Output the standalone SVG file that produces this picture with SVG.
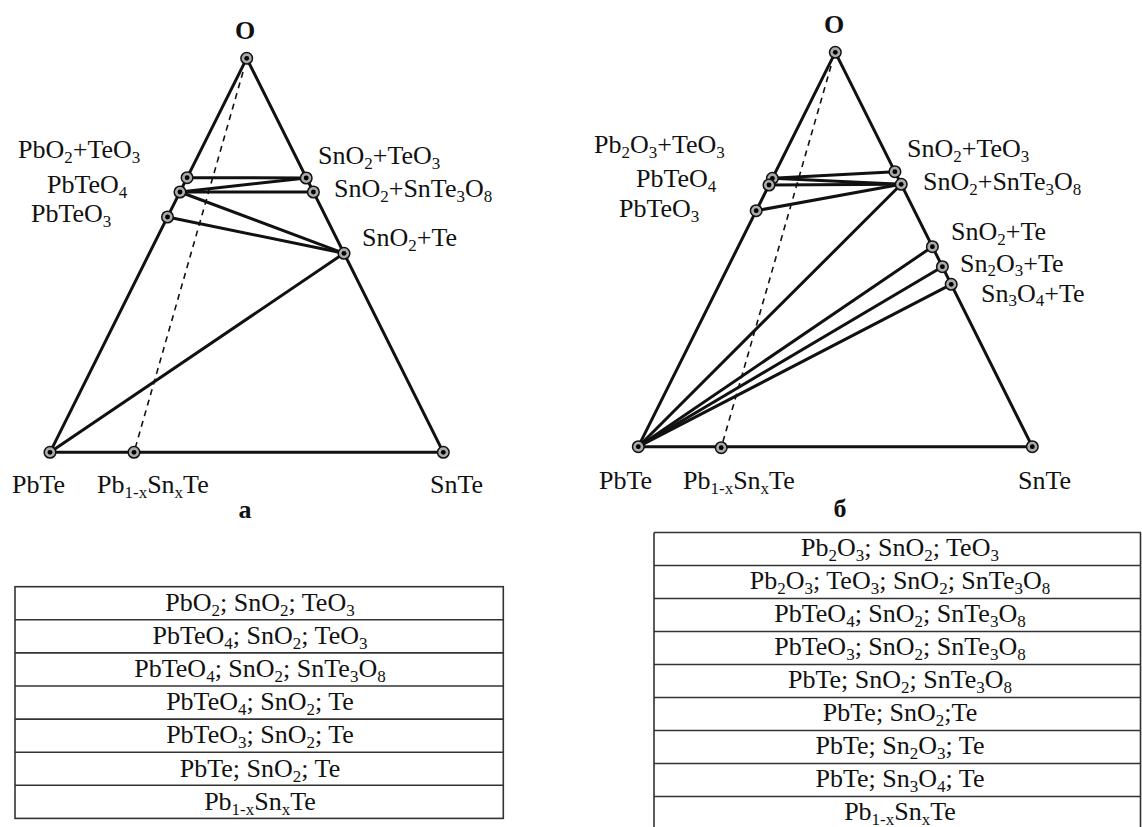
<svg xmlns="http://www.w3.org/2000/svg" width="1142" height="827" viewBox="0 0 1142 827">
<style>
text{font-family:"Liberation Serif","Times New Roman",serif;font-size:26px;fill:#111}
.b{font-weight:bold}
.s{font-size:17px}
.m{text-anchor:middle}
.e{stroke:#111;stroke-width:3;fill:none;stroke-linecap:round}
.d{stroke:#111;stroke-width:1.6;fill:none;stroke-dasharray:6 5}
.t{stroke:#333;stroke-width:1.6;fill:none}
</style>
<defs>
<g id="pt"><circle r="5.8" fill="#aaa" stroke="#111" stroke-width="1.5"/><circle r="2.4" fill="#000"/></g>
</defs>
<rect width="1142" height="827" fill="#fff"/>

<g id="connectors">
<polygon class="e" points="246.7,58.3 50,452.3 443.3,452.3" stroke-linejoin="round"/>
<line class="e" x1="187.1" y1="177.7" x2="306.2" y2="178"/>
<line class="e" x1="180" y1="192" x2="306.2" y2="178"/>
<line class="e" x1="180" y1="192" x2="313.4" y2="192"/>
<line class="e" x1="180" y1="192" x2="344" y2="253.3"/>
<line class="e" x1="167.5" y1="217" x2="344" y2="253.3"/>
<line class="e" x1="50" y1="452.3" x2="344" y2="253.3"/>
<line class="d" x1="243" y1="72" x2="134" y2="452.3"/>
<polygon class="e" points="835.3,52.3 638.3,446.7 1032.3,446.7" stroke-linejoin="round"/>
<line class="e" x1="772.4" y1="178.3" x2="894.9" y2="171.7"/>
<line class="e" x1="772.4" y1="178.3" x2="901.2" y2="184.3"/>
<line class="e" x1="769" y1="185" x2="901.2" y2="184.3"/>
<line class="e" x1="756.2" y1="210.7" x2="901.2" y2="184.3"/>
<line class="e" x1="638.3" y1="446.7" x2="901.2" y2="184.3"/>
<line class="e" x1="638.3" y1="446.7" x2="932.4" y2="246.7"/>
<line class="e" x1="638.3" y1="446.7" x2="942.4" y2="266.7"/>
<line class="e" x1="638.3" y1="446.7" x2="951.2" y2="284.3"/>
<line class="d" x1="831" y1="66" x2="721.2" y2="447.7"/>
</g>

<g id="nO_a"><use href="#pt" x="246.7" y="58.3"/><text class="b m" x="245" y="39">O</text></g>
<g id="nPbO2TeO3_a"><use href="#pt" x="187.1" y="177.7"/><text x="18" y="158">PbO<tspan class="s" dy="5">2</tspan><tspan dy="-5">+TeO</tspan><tspan class="s" dy="5">3</tspan></text></g>
<g id="nPbTeO4_a"><use href="#pt" x="180" y="192"/><text x="47" y="193">PbTeO<tspan class="s" dy="5">4</tspan></text></g>
<g id="nPbTeO3_a"><use href="#pt" x="167.5" y="217"/><text x="31" y="221.7">PbTeO<tspan class="s" dy="5">3</tspan></text></g>
<g id="nSnO2TeO3_a"><use href="#pt" x="306.2" y="178"/><text x="318" y="164">SnO<tspan class="s" dy="5">2</tspan><tspan dy="-5">+TeO</tspan><tspan class="s" dy="5">3</tspan></text></g>
<g id="nSnO2SnTe3O8_a"><use href="#pt" x="313.4" y="192"/><text x="334" y="196.7">SnO<tspan class="s" dy="5">2</tspan><tspan dy="-5">+SnTe</tspan><tspan class="s" dy="5">3</tspan><tspan dy="-5">O</tspan><tspan class="s" dy="5">8</tspan></text></g>
<g id="nSnO2Te_a"><use href="#pt" x="344" y="253.3"/><text x="362" y="246">SnO<tspan class="s" dy="5">2</tspan><tspan dy="-5">+Te</tspan></text></g>
<g id="nPbTe_a"><use href="#pt" x="50" y="452.3"/><text x="12" y="493">PbTe</text></g>
<g id="nPbSnTe_a"><use href="#pt" x="134" y="452.3"/><text x="97" y="493">Pb<tspan class="s" dy="5">1-x</tspan><tspan dy="-5">Sn</tspan><tspan class="s" dy="5">x</tspan><tspan dy="-5">Te</tspan></text></g>
<g id="nSnTe_a"><use href="#pt" x="443.3" y="452.3"/><text x="430" y="493">SnTe</text></g>
<g id="label_a"><text class="b m" x="245" y="518">а</text></g>

<g id="nO_b"><use href="#pt" x="835.3" y="52.3"/><text class="b m" x="834" y="33">O</text></g>
<g id="nPb2O3TeO3_b"><use href="#pt" x="772.4" y="178.3"/><text x="594" y="152.7">Pb<tspan class="s" dy="5">2</tspan><tspan dy="-5">O</tspan><tspan class="s" dy="5">3</tspan><tspan dy="-5">+TeO</tspan><tspan class="s" dy="5">3</tspan></text></g>
<g id="nPbTeO4_b"><use href="#pt" x="769" y="185"/><text x="636" y="187.3">PbTeO<tspan class="s" dy="5">4</tspan></text></g>
<g id="nPbTeO3_b"><use href="#pt" x="756.2" y="210.7"/><text x="619" y="216.7">PbTeO<tspan class="s" dy="5">3</tspan></text></g>
<g id="nSnO2TeO3_b"><use href="#pt" x="894.9" y="171.7"/><text x="907" y="156.7">SnO<tspan class="s" dy="5">2</tspan><tspan dy="-5">+TeO</tspan><tspan class="s" dy="5">3</tspan></text></g>
<g id="nSnO2SnTe3O8_b"><use href="#pt" x="901.2" y="184.3"/><text x="923" y="190">SnO<tspan class="s" dy="5">2</tspan><tspan dy="-5">+SnTe</tspan><tspan class="s" dy="5">3</tspan><tspan dy="-5">O</tspan><tspan class="s" dy="5">8</tspan></text></g>
<g id="nSnO2Te_b"><use href="#pt" x="932.4" y="246.7"/><text x="951" y="240">SnO<tspan class="s" dy="5">2</tspan><tspan dy="-5">+Te</tspan></text></g>
<g id="nSn2O3Te_b"><use href="#pt" x="942.4" y="266.7"/><text x="960" y="271.5">Sn<tspan class="s" dy="4">2</tspan><tspan dy="-4">O</tspan><tspan class="s" dy="4">3</tspan><tspan dy="-4">+Te</tspan></text></g>
<g id="nSn3O4Te_b"><use href="#pt" x="951.2" y="284.3"/><text x="981" y="302">Sn<tspan class="s" dy="4">3</tspan><tspan dy="-4">O</tspan><tspan class="s" dy="4">4</tspan><tspan dy="-4">+Te</tspan></text></g>
<g id="nPbTe_b"><use href="#pt" x="638.3" y="446.7"/><text x="599" y="489">PbTe</text></g>
<g id="nPbSnTe_b"><use href="#pt" x="721.2" y="447.7"/><text x="683" y="489">Pb<tspan class="s" dy="5">1-x</tspan><tspan dy="-5">Sn</tspan><tspan class="s" dy="5">x</tspan><tspan dy="-5">Te</tspan></text></g>
<g id="nSnTe_b"><use href="#pt" x="1032.3" y="446.7"/><text x="1018" y="489">SnTe</text></g>
<g id="label_b"><text class="b m" x="840" y="517">б</text></g>

<g id="table_a">
<rect class="t" x="15" y="586.7" width="488.3" height="231.7"/>
<line class="t" x1="15" y1="619.8" x2="503.3" y2="619.8"/>
<line class="t" x1="15" y1="652.9" x2="503.3" y2="652.9"/>
<line class="t" x1="15" y1="686" x2="503.3" y2="686"/>
<line class="t" x1="15" y1="719.1" x2="503.3" y2="719.1"/>
<line class="t" x1="15" y1="752.2" x2="503.3" y2="752.2"/>
<line class="t" x1="15" y1="785.3" x2="503.3" y2="785.3"/>
<text class="m" x="260" y="611">PbO<tspan class="s" dy="5">2</tspan><tspan dy="-5">; SnO</tspan><tspan class="s" dy="5">2</tspan><tspan dy="-5">; TeO</tspan><tspan class="s" dy="5">3</tspan></text>
<text class="m" x="260" y="644.1">PbTeO<tspan class="s" dy="5">4</tspan><tspan dy="-5">; SnO</tspan><tspan class="s" dy="5">2</tspan><tspan dy="-5">; TeO</tspan><tspan class="s" dy="5">3</tspan></text>
<text class="m" x="260" y="677.2">PbTeO<tspan class="s" dy="5">4</tspan><tspan dy="-5">; SnO</tspan><tspan class="s" dy="5">2</tspan><tspan dy="-5">; SnTe</tspan><tspan class="s" dy="5">3</tspan><tspan dy="-5">O</tspan><tspan class="s" dy="5">8</tspan></text>
<text class="m" x="260" y="710.3">PbTeO<tspan class="s" dy="5">4</tspan><tspan dy="-5">; SnO</tspan><tspan class="s" dy="5">2</tspan><tspan dy="-5">; Te</tspan></text>
<text class="m" x="260" y="743.4">PbTeO<tspan class="s" dy="5">3</tspan><tspan dy="-5">; SnO</tspan><tspan class="s" dy="5">2</tspan><tspan dy="-5">; Te</tspan></text>
<text class="m" x="260" y="776.5">PbTe; SnO<tspan class="s" dy="5">2</tspan><tspan dy="-5">; Te</tspan></text>
<text class="m" x="260" y="809.6">Pb<tspan class="s" dy="5">1-x</tspan><tspan dy="-5">Sn</tspan><tspan class="s" dy="5">x</tspan><tspan dy="-5">Te</tspan></text>
</g>

<g id="table_b">
<line class="t" x1="654" y1="532.5" x2="1141" y2="532.5"/>
<line class="t" x1="654" y1="532.5" x2="654" y2="827"/>
<line class="t" x1="1140.5" y1="532.5" x2="1140.5" y2="827"/>
<line class="t" x1="654" y1="565.5" x2="1141" y2="565.5"/>
<line class="t" x1="654" y1="598.5" x2="1141" y2="598.5"/>
<line class="t" x1="654" y1="631.5" x2="1141" y2="631.5"/>
<line class="t" x1="654" y1="664.5" x2="1141" y2="664.5"/>
<line class="t" x1="654" y1="697.5" x2="1141" y2="697.5"/>
<line class="t" x1="654" y1="730.5" x2="1141" y2="730.5"/>
<line class="t" x1="654" y1="763.5" x2="1141" y2="763.5"/>
<line class="t" x1="654" y1="796.5" x2="1141" y2="796.5"/>
<text class="m" x="900" y="556">Pb<tspan class="s" dy="5">2</tspan><tspan dy="-5">O</tspan><tspan class="s" dy="5">3</tspan><tspan dy="-5">; SnO</tspan><tspan class="s" dy="5">2</tspan><tspan dy="-5">; TeO</tspan><tspan class="s" dy="5">3</tspan></text>
<text class="m" x="900" y="589">Pb<tspan class="s" dy="5">2</tspan><tspan dy="-5">O</tspan><tspan class="s" dy="5">3</tspan><tspan dy="-5">; TeO</tspan><tspan class="s" dy="5">3</tspan><tspan dy="-5">; SnO</tspan><tspan class="s" dy="5">2</tspan><tspan dy="-5">; SnTe</tspan><tspan class="s" dy="5">3</tspan><tspan dy="-5">O</tspan><tspan class="s" dy="5">8</tspan></text>
<text class="m" x="900" y="622">PbTeO<tspan class="s" dy="5">4</tspan><tspan dy="-5">; SnO</tspan><tspan class="s" dy="5">2</tspan><tspan dy="-5">; SnTe</tspan><tspan class="s" dy="5">3</tspan><tspan dy="-5">O</tspan><tspan class="s" dy="5">8</tspan></text>
<text class="m" x="900" y="655">PbTeO<tspan class="s" dy="5">3</tspan><tspan dy="-5">; SnO</tspan><tspan class="s" dy="5">2</tspan><tspan dy="-5">; SnTe</tspan><tspan class="s" dy="5">3</tspan><tspan dy="-5">O</tspan><tspan class="s" dy="5">8</tspan></text>
<text class="m" x="900" y="688">PbTe; SnO<tspan class="s" dy="5">2</tspan><tspan dy="-5">; SnTe</tspan><tspan class="s" dy="5">3</tspan><tspan dy="-5">O</tspan><tspan class="s" dy="5">8</tspan></text>
<text class="m" x="900" y="721">PbTe; SnO<tspan class="s" dy="5">2</tspan><tspan dy="-5">;Te</tspan></text>
<text class="m" x="900" y="754">PbTe; Sn<tspan class="s" dy="5">2</tspan><tspan dy="-5">O</tspan><tspan class="s" dy="5">3</tspan><tspan dy="-5">; Te</tspan></text>
<text class="m" x="900" y="787">PbTe; Sn<tspan class="s" dy="5">3</tspan><tspan dy="-5">O</tspan><tspan class="s" dy="5">4</tspan><tspan dy="-5">; Te</tspan></text>
<text class="m" x="900" y="820">Pb<tspan class="s" dy="5">1-x</tspan><tspan dy="-5">Sn</tspan><tspan class="s" dy="5">x</tspan><tspan dy="-5">Te</tspan></text>
</g>
</svg>
